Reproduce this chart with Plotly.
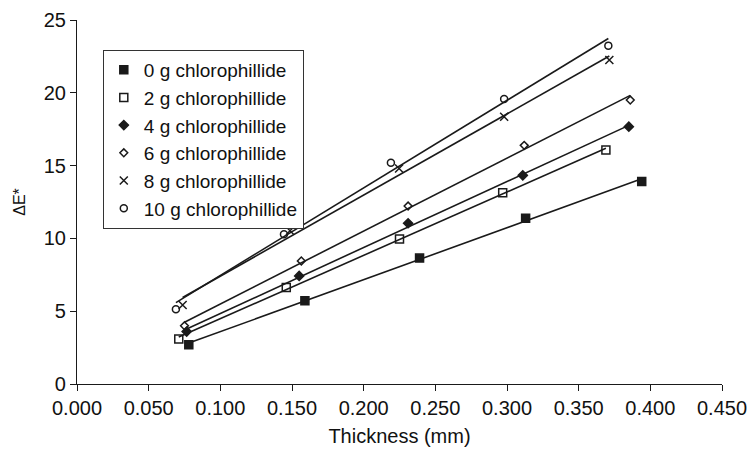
import numpy as np
import plotly.graph_objects as go

# Data
labels = ["0 g chlorophillide", "2 g chlorophillide", "4 g chlorophillide",
          "6 g chlorophillide", "8 g chlorophillide", "10 g chlorophillide"]

x_0g = [0.078, 0.159, 0.239, 0.313, 0.394]
y_0g = [2.70, 5.72, 8.65, 11.38, 13.90]

x_2g = [0.071, 0.146, 0.225, 0.297, 0.369]
y_2g = [3.09, 6.62, 9.96, 13.14, 16.07]

x_4g = [0.0765, 0.155, 0.231, 0.311, 0.385]
y_4g = [3.60, 7.42, 11.04, 14.33, 17.67]

x_6g = [0.075, 0.1565, 0.231, 0.312, 0.386]
y_6g = [4.00, 8.45, 12.22, 16.39, 19.50]

x_8g = [0.0737, 0.1486, 0.2247, 0.298, 0.3714]
y_8g = [5.43, 10.53, 14.80, 18.36, 22.25]

x_10g = [0.069, 0.1444, 0.219, 0.298, 0.3707]
y_10g = [5.13, 10.28, 15.20, 19.57, 23.24]

xs = [x_0g, x_2g, x_4g, x_6g, x_8g, x_10g]
ys = [y_0g, y_2g, y_4g, y_6g, y_8g, y_10g]

x_ticks = [0.0, 0.05, 0.1, 0.15, 0.2, 0.25, 0.3, 0.35, 0.4, 0.45]
y_ticks = [0, 5, 10, 15, 20, 25]

symbols = ["square", "square-open", "diamond", "diamond-open", "x-thin-open", "circle-open"]
sizes = [8, 8, 7, 6, 8, 7]

ink = "#1a1a1a"
fig = go.Figure()

# trend lines (least-squares fit of each series, over its x range)
for x, y in zip(xs, ys):
    k, b = np.polyfit(x, y, 1)
    xl = [min(x), max(x)]
    fig.add_trace(go.Scatter(x=xl, y=[k * v + b for v in xl], mode="lines",
                             line=dict(color=ink, width=1.6),
                             showlegend=False, hoverinfo="skip"))

for x, y, name, sym, sz in zip(xs, ys, labels, symbols, sizes):
    fig.add_trace(go.Scatter(x=x, y=y, mode="markers", name=name,
                             marker=dict(symbol=sym, size=sz, color=ink,
                                         line=dict(color=ink, width=1.5))))

font_family = "Liberation Sans, Arial, sans-serif"
fig.update_layout(
    width=749, height=449,
    margin=dict(l=77, r=27, t=20, b=65),
    plot_bgcolor="white", paper_bgcolor="white",
    font=dict(family=font_family, color="#111", size=20),
    showlegend=True,
    legend=dict(x=0.04, y=0.918, xanchor="left", yanchor="top",
                bgcolor="white", bordercolor="#333", borderwidth=1,
                font=dict(size=19, family=font_family),
                itemwidth=30, tracegroupgap=0,
                itemsizing="trace"),
    xaxis=dict(range=[0, 0.45], tickvals=x_ticks,
               ticktext=[f"{v:.3f}" for v in x_ticks],
               showgrid=False, zeroline=False, showline=True,
               linecolor=ink, linewidth=1.2, ticks="outside", ticklen=6,
               tickcolor=ink, tickfont=dict(size=20), automargin=False,
               title=dict(text="Thickness (mm)", font=dict(size=20), standoff=10)),
    yaxis=dict(range=[0, 25], tickvals=y_ticks,
               showgrid=False, zeroline=False, showline=True,
               linecolor=ink, linewidth=1.2, ticks="outside", ticklen=6,
               tickcolor=ink, tickfont=dict(size=20), automargin=False,
               title=dict(text="ΔE*", font=dict(size=16), standoff=14)),
)

fig.write_html("out.html")
